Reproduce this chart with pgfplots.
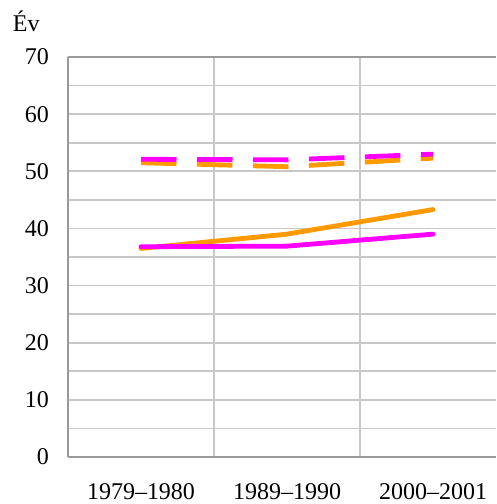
\documentclass[border=0pt]{standalone}
\usepackage{fontspec}
\setmainfont{Liberation Serif}
\usepackage{pgfplots}
\pgfplotsset{compat=1.18}
\definecolor{axgray}{HTML}{999999}
\definecolor{grdgray}{HTML}{C8C8C8}
\definecolor{mypink}{HTML}{FF00FF}
\definecolor{myorange}{HTML}{FF9900}
\begin{document}
\begin{tikzpicture}
\begin{axis}[
  at={(0pt,0pt)}, anchor=south west,
  scale only axis, width=428pt, height=400pt,
  xmin=-0.5, xmax=2.4315, ymin=0, ymax=70,
  axis x line*=bottom, axis y line*=left,
  axis line style={axgray, line width=2.6pt},
  xtick={0,1,2},
  xticklabels={1979--1980,1989--1990,2000--2001},
  minor xtick={0.5,1.5},
  ytick={0,10,...,70},
  minor ytick={5,15,...,65},
  xmajorgrids=false, xminorgrids=true,
  ymajorgrids=true, yminorgrids=true,
  major grid style={grdgray, line width=1.6pt},
  minor grid style={grdgray, line width=1.6pt},
  major tick length=0pt, minor tick length=0pt,
  tick label style={font=\fontsize{24}{28}\selectfont},
  /pgf/number format/assume math mode=true,
  yticklabel style={anchor=east, inner sep=0pt, xshift=-19pt},
  xticklabel style={anchor=north, inner sep=0pt, yshift=-26.5pt},
  clip=false,
]
\addplot[myorange, line width=4.8pt, dash pattern=on 35.5pt off 20.5pt] coordinates {(0,51.5) (1,50.8) (2,52.3)};
\addplot[mypink, line width=4.8pt, dash pattern=on 35.5pt off 20.5pt] coordinates {(0,52.1) (1,52.0) (2,53.0)};
\addplot[myorange, line width=4.8pt, line cap=round] coordinates {(0,36.5) (1,39.0) (2,43.3)};
\addplot[mypink, line width=4.8pt, line cap=round] coordinates {(0,36.8) (1,36.9) (2,39.0)};
\draw[axgray, line width=2.6pt] (rel axis cs:0,1) -- (rel axis cs:1,1);
\end{axis}
\node[anchor=base west, inner sep=0pt, font=\fontsize{24}{28}\selectfont] at (-55.3pt,425pt) {Év};
\pgfresetboundingbox
\path[use as bounding box] (-68pt,-47pt) rectangle (428pt,457pt);
\end{tikzpicture}
\end{document}
